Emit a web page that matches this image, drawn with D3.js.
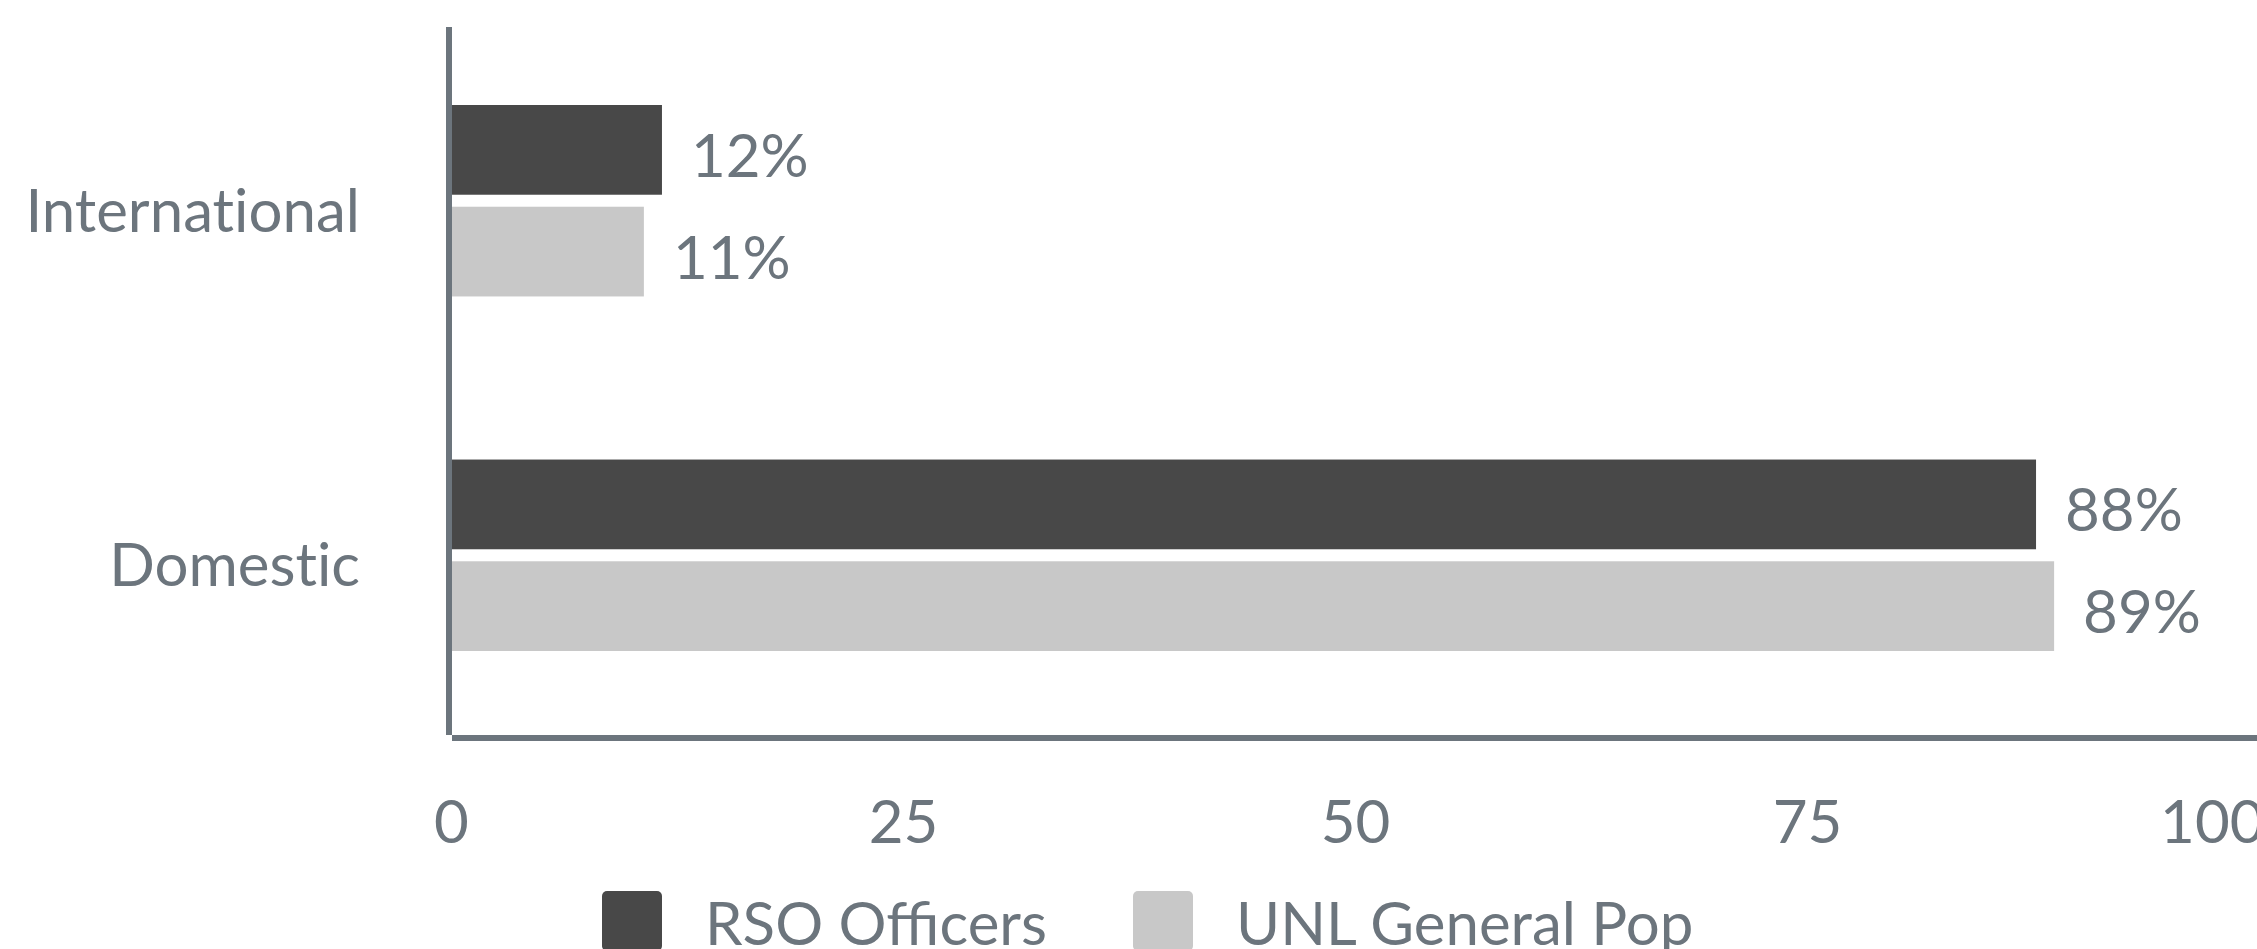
<!DOCTYPE html>
<html>
<head>
<meta charset="utf-8">
<script src="https://cdn.jsdelivr.net/npm/d3@7"></script>
<style>
  html, body { margin: 0; padding: 0; background: #fff; overflow: hidden; }
  text { font-family: Lato, "Open Sans", sans-serif; }
  .cat text { font-variant-ligatures: none; font-feature-settings: "liga" 0, "dlig" 0; }
</style>
</head>
<body>
<script>
const w = 2257;
const h = 949;

// Data

const categories = ["International", "Domestic"];
const seriesNames = ["RSO Officers", "UNL General Pop"];
const rsoValues = [12, 88];
const unlValues = [11, 89];
const xTicks = [0, 25, 50, 75, 100];

const colors = ["#484848", "#c8c8c8"];
const textColor = "#6c757d";
const fontSize = 60;

const rows = categories.map((c, i) => ({
  category: c,
  values: [
    { series: seriesNames[0], value: rsoValues[i] },
    { series: seriesNames[1], value: unlValues[i] }
  ]
}));

// SVG

const svg = d3.select("body").append("svg").attr("width", w).attr("height", h);

// Scales

const x = d3.scaleLinear().domain([0, 100]).range([445, 2253]);

const y = d3
  .scaleBand()
  .domain(categories)
  .range([27, 729])
  .paddingInner(0.46)
  .paddingOuter(0.22);

const ySub = d3
  .scaleBand()
  .domain(seriesNames)
  .range([0, y.bandwidth()])
  .paddingInner(0.118);

const color = d3.scaleOrdinal().domain(seriesNames).range(colors);

// Bars

const groups = svg
  .append("g")
  .selectAll("g")
  .data(rows)
  .join("g")
  .attr("transform", (d) => `translate(0,${y(d.category)})`);

groups
  .selectAll("rect")
  .data((d) => d.values)
  .join("rect")
  .attr("x", x(0) + 2)
  .attr("y", (d) => ySub(d.series))
  .attr("width", (d) => x(d.value) - x(0) - 2)
  .attr("height", ySub.bandwidth())
  .attr("fill", (d) => color(d.series));

groups
  .selectAll("text")
  .data((d) => d.values)
  .join("text")
  .attr("x", (d) => x(d.value) + 29)
  .attr("y", (d) => ySub(d.series) + ySub.bandwidth() / 2 + 27)
  .attr("fill", textColor)
  .attr("font-size", fontSize)
  .text((d) => d.value + "%");

// Axis lines

svg
  .append("line")
  .attr("x1", 449)
  .attr("x2", 449)
  .attr("y1", 27)
  .attr("y2", 735)
  .attr("stroke", textColor)
  .attr("stroke-width", 6);

svg
  .append("line")
  .attr("x1", 452)
  .attr("x2", w)
  .attr("y1", 738)
  .attr("y2", 738)
  .attr("stroke", textColor)
  .attr("stroke-width", 6);

// Y axis labels

const yAxis = svg
  .append("g")
  .attr("class", "cat")
  .attr("transform", "translate(449,0)")
  .call(d3.axisLeft(y).tickSize(0).tickPadding(89));

yAxis.select(".domain").remove();
yAxis
  .selectAll("text")
  .attr("font-size", fontSize)
  .attr("font-family", "Lato, sans-serif")
  .attr("fill", textColor)
  .attr("dy", "0.52em");

// X axis labels

const xAxis = svg
  .append("g")
  .attr("transform", "translate(0,738)")
  .call(d3.axisBottom(x).tickValues(xTicks).tickSize(0).tickPadding(62));

xAxis.select(".domain").remove();
xAxis
  .selectAll("text")
  .attr("font-size", fontSize)
  .attr("font-family", "Lato, sans-serif")
  .attr("fill", textColor)
  .attr("dx", 6);

xAxis
  .selectAll("text")
  .filter((d) => d === 100)
  .attr("text-anchor", "end")
  .attr("dx", 11);

// Legend

const legend = svg.append("g").attr("transform", "translate(602,891)");
let lx = 0;
seriesNames.forEach((name, i) => {
  legend
    .append("rect")
    .attr("x", lx)
    .attr("y", 0)
    .attr("width", 60)
    .attr("height", 60)
    .attr("rx", 5)
    .attr("fill", colors[i]);
  const t = legend
    .append("text")
    .attr("x", lx + 103)
    .attr("y", 54)
    .attr("font-size", fontSize)
    .attr("fill", textColor)
    .text(name);
  lx += 103 + t.node().getComputedTextLength() + 86;
});
</script>
</body>
</html>
